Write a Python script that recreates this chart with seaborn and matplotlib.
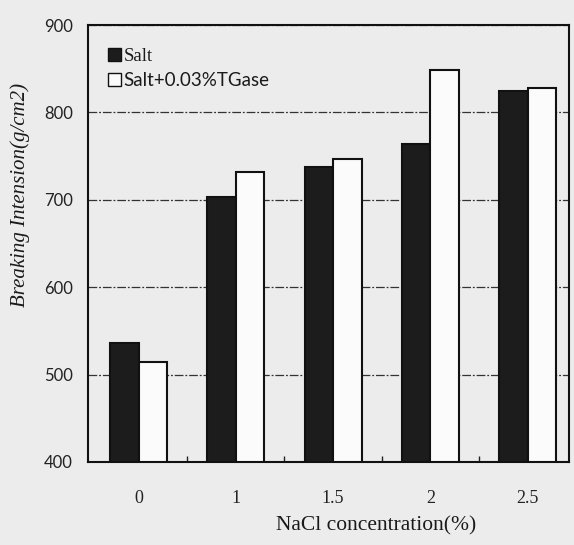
import matplotlib
matplotlib.use("Agg")
import matplotlib.pyplot as plt
from matplotlib.patches import Patch
from matplotlib.ticker import FixedLocator
import seaborn as sns
import pandas as pd

categories = ["0", "1", "1.5", "2", "2.5"]
salt = [536, 703, 737, 764, 825]
salt_tgase = [514, 732, 747, 849, 828]
series_names = ["Salt", "Salt+0.03%TGase"]
yticks = [400, 500, 600, 700, 800, 900]

df = pd.DataFrame({
    "conc": categories * 2,
    "value": salt + salt_tgase,
    "series": [series_names[0]] * len(categories) + [series_names[1]] * len(categories),
})

sns.set_theme(style="white")
plt.rcParams["font.family"] = ["Liberation Serif", "DejaVu Serif"]

bg = "#ececec"
fig = plt.figure(figsize=(5.74, 5.45), dpi=100, facecolor=bg)
ax = fig.add_axes([88 / 574, 1 - 462 / 545, (568.5 - 88) / 574, 437 / 545])
ax.set_facecolor(bg)

sns.barplot(data=df, x="conc", y="value", hue="series", order=categories,
            hue_order=series_names, palette=["#1c1c1c", "#fbfbfb"],
            edgecolor="#111111", linewidth=1.5, width=0.585, gap=0,
            ax=ax, legend=False, err_kws={"linewidth": 0})

ax.set_ylim(400, 900)
ax.set_xlim(-0.52, 4.42)
ax.set_yticks(yticks)
ax.set_yticklabels([str(v) for v in yticks], family="Lato", fontsize=12, color="#222222")
ax.set_xticks(range(len(categories)))
ax.set_xticklabels(categories, fontsize=13, color="#222222")
ax.tick_params(axis="y", length=0, pad=11)
ax.tick_params(axis="x", which="major", length=0, pad=20)
ax.xaxis.set_minor_locator(FixedLocator([0.5, 1.5, 2.5, 3.5]))
ax.tick_params(axis="x", which="minor", direction="in", length=4, width=1, color="#222222", bottom=True)

ax.grid(axis="y", color="#333333", linestyle=(0, (7, 1.5, 1.5, 1.5)), linewidth=0.9)
ax.set_axisbelow(True)
for s in ax.spines.values():
    s.set_visible(True)
    s.set_color("#111111")
    s.set_linewidth(1.5)

ax.set_xlabel("")
ax.set_ylabel("")
fig.text(376 / 574, 1 - 526 / 545, "NaCl concentration(%)", ha="center", va="center",
         fontsize=15.5, color="#1a1a1a")
fig.text(20 / 574, 1 - 195 / 545, "Breaking Intension(g/cm2)", ha="center", va="center",
         rotation=90, fontsize=15, style="italic", color="#1a1a1a")

handles = [Patch(facecolor="#1c1c1c", edgecolor="#111111", linewidth=1.0),
           Patch(facecolor="#fbfbfb", edgecolor="#111111", linewidth=1.0)]
leg = ax.legend(handles, series_names, loc="upper left", bbox_to_anchor=(0.025, 0.965),
                frameon=False, handlelength=0.7, handleheight=0.7, handletextpad=0.15,
                labelspacing=0.4, fontsize=13.5, borderaxespad=0)
leg.get_texts()[1].set_family("Lato")
for t in leg.get_texts():
    t.set_color("#1a1a1a")

fig.savefig("out.png", dpi=100, facecolor=bg)
